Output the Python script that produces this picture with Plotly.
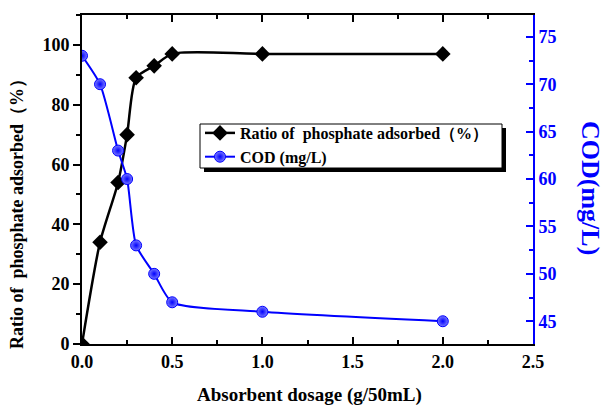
import plotly.graph_objects as go

# Absorbent dosage (g/50mL)
dosage = [0.0, 0.1, 0.2, 0.25, 0.3, 0.4, 0.5, 1.0, 2.0]
# Ratio of phosphate adsorbed (%)
ratio_adsorbed = [0, 34, 54, 70, 89, 93, 97, 97, 97]
# COD (mg/L)
cod = [73, 70, 63, 60, 53, 50, 47, 46, 45]

SERIF = "Liberation Serif, Times New Roman, serif"
BLUE = "#0000ff"

W, H = 606, 405
ML, MR, MT, MB = 82, 73, 15, 61
PW, PH = W - ML - MR, H - MT - MB


def px_x(px):
    return (px - ML) / PW


def px_y(py):
    return (H - MB - py) / PH


fig = go.Figure()

fig.add_trace(go.Scatter(
    x=dosage, y=ratio_adsorbed,
    name="Ratio of  phosphate adsorbed（%）",
    mode="lines+markers",
    line=dict(color="black", width=2.5, shape="spline", smoothing=0.7),
    marker=dict(symbol="diamond", size=12, color="black"),
))

fig.add_trace(go.Scatter(
    x=dosage, y=cod,
    name="COD (mg/L)",
    yaxis="y2",
    mode="lines+markers",
    line=dict(color=BLUE, width=2, shape="spline", smoothing=0.6),
    marker=dict(symbol="circle", size=11, color="#7a7aff",
                gradient=dict(type="radial", color=BLUE),
                line=dict(color=BLUE, width=1)),
))

tickfont = dict(family=SERIF, size=18, color="black", weight="bold")

fig.update_layout(
    width=W, height=H,
    margin=dict(l=ML, r=MR, t=MT, b=MB),
    paper_bgcolor="white",
    plot_bgcolor="white",
    showlegend=True,
    legend=dict(
        x=px_x(200), y=px_y(116), xanchor="left", yanchor="top",
        bgcolor="rgba(0,0,0,0)", borderwidth=0,
        font=dict(family=SERIF, size=16, color="black", weight="bold"),
        tracegroupgap=0, itemwidth=30,
    ),
    xaxis=dict(
        range=[0, 2.5], dtick=0.5, tickformat=".1f",
        showgrid=False, zeroline=False,
        showline=True, linecolor="black", linewidth=2,
        mirror="ticks", ticks="inside", ticklen=7, tickwidth=2, tickcolor="black",
        minor=dict(dtick=0.25, ticks="inside", ticklen=4, tickwidth=1.5, tickcolor="black"),
        tickfont=tickfont,
    ),
    yaxis=dict(
        range=[0, 110], dtick=20,
        showgrid=False, zeroline=False,
        showline=True, linecolor="black", linewidth=2,
        ticks="outside", ticklen=7, tickwidth=2, tickcolor="black",
        minor=dict(dtick=10, ticks="outside", ticklen=4, tickwidth=1.5, tickcolor="black"),
        tickfont=tickfont,
    ),
    yaxis2=dict(
        overlaying="y", side="right",
        range=[42.6, 77.3], tick0=45, dtick=5,
        showgrid=False, zeroline=False,
        showline=True, linecolor=BLUE, linewidth=2,
        ticks="inside", ticklen=7, tickwidth=2, tickcolor=BLUE,
        minor=dict(dtick=2.5, ticks="inside", ticklen=4, tickwidth=1.5, tickcolor=BLUE),
        tickfont=dict(family=SERIF, size=18, color=BLUE, weight="bold"),
    ),
)

# Axis titles
fig.add_annotation(
    text="Ratio of  phosphate adsorbed（%）", xref="paper", yref="paper",
    x=px_x(17), y=px_y(210), xanchor="center", yanchor="middle",
    textangle=-90, showarrow=False,
    font=dict(family=SERIF, size=18, color="black", weight="bold"),
)
fig.add_annotation(
    text="COD(mg/L)", xref="paper", yref="paper",
    x=px_x(591), y=px_y(188), xanchor="center", yanchor="middle",
    textangle=90, showarrow=False,
    font=dict(family=SERIF, size=26, color=BLUE, weight="bold"),
)
fig.add_annotation(
    text="Absorbent dosage (g/50mL)", xref="paper", yref="paper",
    x=px_x(309), y=px_y(395), xanchor="center", yanchor="middle",
    showarrow=False,
    font=dict(family=SERIF, size=19, color="black", weight="bold"),
)

# Legend frame with a drop shadow
fig.add_shape(type="rect", xref="paper", yref="paper",
              x0=px_x(204), x1=px_x(506), y0=px_y(172), y1=px_y(128),
              line=dict(width=0), fillcolor="black", layer="below")
fig.add_shape(type="rect", xref="paper", yref="paper",
              x0=px_x(200), x1=px_x(502), y0=px_y(168), y1=px_y(124),
              line=dict(color="black", width=1), fillcolor="white", layer="below")

fig.write_html("out.html")
